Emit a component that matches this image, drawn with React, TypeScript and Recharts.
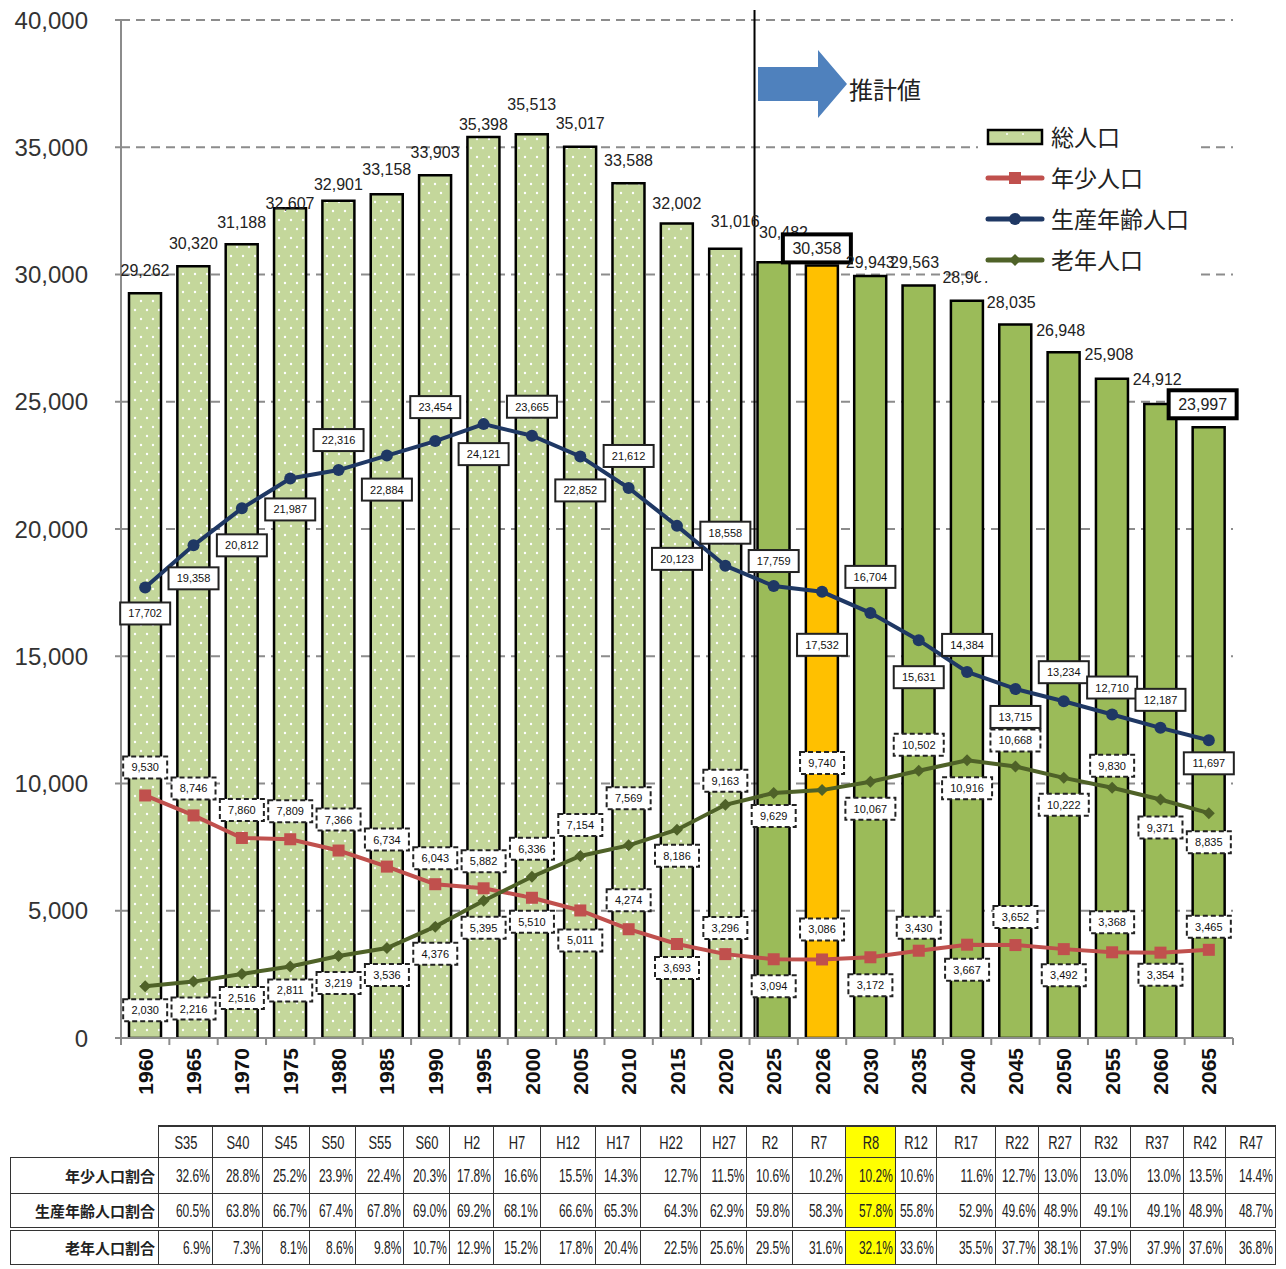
import React from "react";
import {
  Bar,
  CartesianGrid,
  Cell,
  ComposedChart,
  LabelList,
  Line,
  ReferenceLine,
  XAxis,
  YAxis,
} from "recharts";

// 年次（グラフ横軸）
const years = [
  "1960", "1965", "1970", "1975", "1980", "1985", "1990", "1995", "2000", "2005", "2010", "2015",
  "2020", "2025", "2026", "2030", "2035", "2040", "2045", "2050", "2055", "2060", "2065",
];
const totalPop = [
  29262, 30320, 31188, 32607, 32901, 33158, 33903, 35398, 35513, 35017, 33588, 32002,
  31016, 30482, 30358, 29943, 29563, 28967, 28035, 26948, 25908, 24912, 23997,
];
const youngPop = [
  9530, 8746, 7860, 7809, 7366, 6734, 6043, 5882, 5510, 5011, 4274, 3693,
  3296, 3094, 3086, 3172, 3430, 3667, 3652, 3492, 3368, 3354, 3465,
];
const workingPop = [
  17702, 19358, 20812, 21987, 22316, 22884, 23454, 24121, 23665, 22852, 21612, 20123,
  18558, 17759, 17532, 16704, 15631, 14384, 13715, 13234, 12710, 12187, 11697,
];
const elderlyPop = [
  2030, 2216, 2516, 2811, 3219, 3536, 4376, 5395, 6336, 7154, 7569, 8186,
  9163, 9629, 9740, 10067, 10502, 10916, 10668, 10222, 9830, 9371, 8835,
];
const yTicks = [0, 5000, 10000, 15000, 20000, 25000, 30000, 35000, 40000];
const lastActualYear = "2020";
const currentYear = "2026";
const boxedYears = ["2026", "2065"];

// 表（和暦）
const eraLabels = [
  "S35", "S40", "S45", "S50", "S55", "S60", "H2", "H7", "H12", "H17", "H22", "H27",
  "R2", "R7", "R8", "R12", "R17", "R22", "R27", "R32", "R37", "R42", "R47",
];
const youngShare = [
  32.6, 28.8, 25.2, 23.9, 22.4, 20.3, 17.8, 16.6, 15.5, 14.3, 12.7, 11.5,
  10.6, 10.2, 10.2, 10.6, 11.6, 12.7, 13.0, 13.0, 13.0, 13.5, 14.4,
];
const workingShare = [
  60.5, 63.8, 66.7, 67.4, 67.8, 69.0, 69.2, 68.1, 66.6, 65.3, 64.3, 62.9,
  59.8, 58.3, 57.8, 55.8, 52.9, 49.6, 48.9, 49.1, 49.1, 48.9, 48.7,
];
const elderlyShare = [
  6.9, 7.3, 8.1, 8.6, 9.8, 10.7, 12.9, 15.2, 17.8, 20.4, 22.5, 25.6,
  29.5, 31.6, 32.1, 33.6, 35.5, 37.7, 38.1, 37.9, 37.9, 37.6, 36.8,
];
const highlightEra = "R8";

// label placement (px, relative to point / bar top)
const totalLabelDy = [-23, -23, -22, -5, -16, -25, -23, -13, -30, -23, -23, -20, -27, -30, -17, -13, -23, -23, -22, -22, -24, -24, -23];
const totalLabelDx = [0, 0, 0, 0, 0, 0, 0, 0, 0, 0, 0, 0, 10, 10, -5, 0, -4, 0, -4, -3, -3, -3, -6];
const youngLabelDy = [-28, -27, -28, -28, -31, -27, -26, -27, 24, 30, -29, 24, -26, 27, -30, 28, -23, 25, -28, 26, -30, 22, -23];
const workingLabelDy = [26, 33, 37, 31, -30, 34, -34, 30, -29, 34, -32, 33, -33, -25, 53, -36, 37, -27, 28, -29, -27, -28, 23];
const elderlyLabelDy = [24, 27, 24, 24, 27, 27, 27, 27, -28, -31, -47, 26, -24, 23, -27, 27, -26, 28, -26, 27, -22, 28, 29];

const data = years.map((year, i) => ({
  year,
  total: totalPop[i],
  young: youngPop[i],
  working: workingPop[i],
  elderly: elderlyPop[i],
}));

const CHART_W = 1286;
const CHART_H = 1110;
const PLOT_LEFT = 121;
const PLOT_RIGHT = 1233;
const STEP = (PLOT_RIGHT - PLOT_LEFT) / years.length;

const RED = "#c0504d";
const NAVY = "#1f3864";
const OLIVE = "#4f6228";
const LIGHT_GREEN = "#c4d79b";
const GREEN = "#9bbb59";
const ORANGE = "#ffc000";
const GRID = "#8c8c8c";
const latin = "'Liberation Sans', Arial, sans-serif";
const cjk = "'Noto Sans CJK JP', 'Noto Sans', sans-serif";

const fmt = (v: number) => v.toLocaleString("en-US");

function barFill(year: string) {
  if (year === currentYear) return ORANGE;
  if (Number(year) <= Number(lastActualYear)) return "url(#dots)";
  return GREEN;
}

function TotalLabel(props: any) {
  const vb = props.viewBox ?? props;
  const i = props.index;
  const cx = vb.x + vb.width / 2 + totalLabelDx[i];
  const cy = vb.y + totalLabelDy[i];
  const boxed = boxedYears.includes(years[i]);
  return (
    <g>
      {boxed && (
        <rect x={cx - 34} y={cy - 14} width={68} height={28} fill="#fff" stroke="#000" strokeWidth={4} />
      )}
      <text
        x={cx}
        y={cy}
        textAnchor="middle"
        dominantBaseline="central"
        fontSize={16}
        fontFamily={latin}
        fill="#222"
      >
        {fmt(props.value)}
      </text>
    </g>
  );
}

function makeBoxLabel(offsets: number[], dashed: boolean) {
  return function BoxLabel(props: any) {
    const vb = props.viewBox ?? props;
    const i = props.index;
    const cx = vb.x + (vb.width || 0) / 2;
    const cy = vb.y + offsets[i];
    const text = fmt(props.value);
    const w = text.length > 5 ? 50 : 44;
    return (
      <g>
        <rect
          x={cx - w / 2}
          y={cy - 11}
          width={w}
          height={22}
          fill="#fff"
          stroke="#222"
          strokeWidth={2}
          strokeDasharray={dashed ? "5 3" : undefined}
        />
        <text
          x={cx}
          y={cy}
          textAnchor="middle"
          dominantBaseline="central"
          fontSize={11}
          fontFamily={latin}
          fill="#111"
        >
          {text}
        </text>
      </g>
    );
  };
}

const SquareDot = (p: any) => (
  <rect key={`sq-${p.index}`} x={p.cx - 6} y={p.cy - 6} width={12} height={12} fill={RED} />
);
const DiamondDot = (p: any) => (
  <polygon
    key={`dm-${p.index}`}
    points={`${p.cx},${p.cy - 6} ${p.cx + 6},${p.cy} ${p.cx},${p.cy + 6} ${p.cx - 6},${p.cy}`}
    fill={OLIVE}
  />
);

function YearTick(props: any) {
  const { x, y, payload, index } = props;
  const ty = y + 10;
  return (
    <g>
      <line x1={x - STEP / 2} x2={x - STEP / 2} y1={y} y2={y + 7} stroke={GRID} strokeWidth={2} />
      {index === years.length - 1 && (
        <line x1={x + STEP / 2} x2={x + STEP / 2} y1={y} y2={y + 7} stroke={GRID} strokeWidth={2} />
      )}
      <text
        x={x}
        y={ty}
        transform={`rotate(-90, ${x}, ${ty})`}
        textAnchor="end"
        dy="0.36em"
        fontSize={21}
        fontWeight="bold"
        fontFamily={latin}
        fill="#111"
      >
        {payload.value}
      </text>
    </g>
  );
}

const EmptyTick = () => <g />;

function LegendIcon({ kind }: { kind: string }) {
  if (kind === "bar") {
    return (
      <svg width={60} height={22}>
        <rect x={3} y={4} width={54} height={14} fill={LIGHT_GREEN} stroke="#000" strokeWidth={2.5} />
        <circle cx={22} cy={8} r={1} fill="#fff" />
        <circle cx={38} cy={8} r={1} fill="#fff" />
      </svg>
    );
  }
  const color = kind === "square" ? RED : kind === "circle" ? NAVY : OLIVE;
  return (
    <svg width={60} height={22}>
      <line x1={3} x2={57} y1={11} y2={11} stroke={color} strokeWidth={5} strokeLinecap="round" />
      {kind === "square" && <rect x={24} y={5} width={12} height={12} fill={color} />}
      {kind === "circle" && <circle cx={30} cy={11} r={6} fill={color} />}
      {kind === "diamond" && <polygon points="30,5 36,11 30,17 24,11" fill={color} />}
    </svg>
  );
}

const legendItems = [
  { label: "総人口", kind: "bar" },
  { label: "年少人口", kind: "square" },
  { label: "生産年齢人口", kind: "circle" },
  { label: "老年人口", kind: "diamond" },
];

const colWidths = [54, 50, 47, 46, 48, 46, 44, 47, 55, 45, 60, 46, 46, 53, 50, 41, 59, 43, 42, 50, 53, 42, 50];

function Narrow({ children, align }: { children: React.ReactNode; align: "center" | "right" }) {
  const base: React.CSSProperties = {
    position: "absolute",
    top: "50%",
    whiteSpace: "nowrap",
    lineHeight: 1,
  };
  const style: React.CSSProperties =
    align === "center"
      ? { ...base, left: "50%", transform: "translate(-50%, -50%) scaleX(0.68)", transformOrigin: "center" }
      : { ...base, right: 2, transform: "translateY(-50%) scaleX(0.63)", transformOrigin: "right center" };
  return <span style={style}>{children}</span>;
}

function ShareTable() {
  const rows = [
    { label: "年少人口割合", values: youngShare },
    { label: "生産年齢人口割合", values: workingShare },
    { label: "老年人口割合", values: elderlyShare },
  ];
  const border = "1px solid #333";
  return (
    <table
      style={{
        position: "absolute",
        left: 10,
        top: 1125,
        width: 1265,
        borderCollapse: "collapse",
        tableLayout: "fixed",
        fontFamily: latin,
        color: "#222",
      }}
    >
      <colgroup>
        <col style={{ width: 148 }} />
        {colWidths.map((w, i) => (
          <col key={i} style={{ width: w }} />
        ))}
      </colgroup>
      <tbody>
        <tr style={{ height: 31 }}>
          <td style={{ border: "none" }} />
          {eraLabels.map((e) => (
            <td
              key={e}
              style={{
                position: "relative",
                border,
                borderTop: "2px solid #333",
                fontSize: 19,
                padding: 0,
                background: e === highlightEra ? "#ffff00" : "#fff",
              }}
            >
              <Narrow align="center">{e}</Narrow>
            </td>
          ))}
        </tr>
        {rows.map((r, ri) => (
          <tr key={r.label} style={{ height: ri === 2 ? 35 : 36 }}>
            <td
              style={{
                border,
                borderBottom: ri === 1 ? "4px double #333" : border,
                textAlign: "right",
                fontFamily: cjk,
                fontWeight: 700,
                fontSize: 15,
                padding: "0 3px 0 0",
                whiteSpace: "nowrap",
              }}
            >
              {r.label}
            </td>
            {r.values.map((v, i) => (
              <td
                key={i}
                style={{
                  position: "relative",
                  border,
                  borderBottom: ri === 1 ? "4px double #333" : border,
                  fontSize: 19,
                  padding: 0,
                  background: eraLabels[i] === highlightEra ? "#ffff00" : "#fff",
                }}
              >
                <Narrow align="right">{v.toFixed(1)}%</Narrow>
              </td>
            ))}
          </tr>
        ))}
      </tbody>
    </table>
  );
}

export default function App() {
  return (
    <div style={{ position: "absolute", left: 0, top: 0, width: 1286, height: 1269, background: "#fff" }}>
      <ComposedChart
        width={CHART_W}
        height={CHART_H}
        data={data}
        margin={{ top: 20, right: CHART_W - PLOT_RIGHT, bottom: 0, left: 0 }}
        barCategoryGap={0}
      >
        <defs>
          <pattern id="dots" width={12} height={18} patternUnits="userSpaceOnUse">
            <rect width={12} height={18} fill={LIGHT_GREEN} />
            <circle cx={3} cy={4} r={1.2} fill="#fff" />
            <circle cx={9} cy={13} r={1.2} fill="#fff" />
          </pattern>
        </defs>
        <CartesianGrid
          yAxisId="l"
          vertical={false}
          stroke={GRID}
          strokeWidth={2}
          strokeDasharray="9 6"
        />
        <XAxis
          dataKey="year"
          interval={0}
          height={CHART_H - 1038}
          tickLine={false}
          tickSize={0}
          tickMargin={0}
          axisLine={{ stroke: GRID, strokeWidth: 2 }}
          tick={<YearTick />}
        />
        <YAxis
          yAxisId="l"
          width={PLOT_LEFT}
          domain={[0, 40000]}
          ticks={yTicks}
          allowDataOverflow
          tickFormatter={fmt}
          tickSize={6}
          tickMargin={27}
          axisLine={{ stroke: GRID, strokeWidth: 2 }}
          tickLine={{ stroke: GRID, strokeWidth: 2 }}
          tick={{ fontSize: 24, fill: "#333", fontFamily: latin }}
        />
        <YAxis
          yAxisId="r"
          orientation="right"
          width={0}
          domain={[0, 40000]}
          ticks={yTicks}
          allowDataOverflow
          tickSize={5}
          axisLine={{ stroke: GRID, strokeWidth: 2 }}
          tickLine={{ stroke: GRID, strokeWidth: 2 }}
          tick={<EmptyTick />}
        />
        <Bar
          dataKey="total"
          yAxisId="l"
          barSize={32}
          stroke="#000"
          strokeWidth={2.5}
          isAnimationActive={false}
        >
          {data.map((d) => (
            <Cell key={d.year} fill={barFill(d.year)} />
          ))}
          <LabelList dataKey="total" content={TotalLabel} />
        </Bar>
        <ReferenceLine
          yAxisId="l"
          x="2025"
          position="start"
          stroke="#000"
          strokeWidth={2}
          ifOverflow="visible"
          shape={(p: any) => (
            <line
              x1={p.x1 + 5}
              x2={p.x2 + 5}
              y1={Math.min(p.y1, p.y2) - 10}
              y2={Math.max(p.y1, p.y2)}
              stroke="#000"
              strokeWidth={2}
            />
          )}
        />
        <Line
          dataKey="young"
          yAxisId="l"
          stroke={RED}
          strokeWidth={4}
          dot={SquareDot}
          activeDot={false}
          isAnimationActive={false}
        >
          <LabelList dataKey="young" content={makeBoxLabel(youngLabelDy, true)} />
        </Line>
        <Line
          dataKey="elderly"
          yAxisId="l"
          stroke={OLIVE}
          strokeWidth={4}
          dot={DiamondDot}
          activeDot={false}
          isAnimationActive={false}
        >
          <LabelList dataKey="elderly" content={makeBoxLabel(elderlyLabelDy, true)} />
        </Line>
        <Line
          dataKey="working"
          yAxisId="l"
          stroke={NAVY}
          strokeWidth={4}
          dot={{ r: 6, fill: NAVY, stroke: NAVY, strokeWidth: 0 }}
          activeDot={false}
          isAnimationActive={false}
        >
          <LabelList dataKey="working" content={makeBoxLabel(workingLabelDy, false)} />
        </Line>
      </ComposedChart>

      <svg
        width={CHART_W}
        height={140}
        style={{ position: "absolute", left: 0, top: 0, pointerEvents: "none" }}
      >
        <polygon points="758,67 818,67 818,50 847,84 818,118 818,101 758,101" fill="#4f81bd" />
        <text x={849} y={88} dominantBaseline="central" fontSize={24} fontFamily={cjk} fill="#222">
          推計値
        </text>
      </svg>

      <div
        style={{
          position: "absolute",
          left: 978,
          top: 112,
          width: 218,
          height: 169,
          background: "#fff",
          fontFamily: cjk,
          fontSize: 23,
          color: "#222",
          paddingTop: 4,
          boxSizing: "border-box",
          whiteSpace: "nowrap",
        }}
      >
        {legendItems.map((it) => (
          <div key={it.label} style={{ display: "flex", alignItems: "center", height: 41, marginLeft: 7 }}>
            <LegendIcon kind={it.kind} />
            <span style={{ marginLeft: 6, lineHeight: 1 }}>{it.label}</span>
          </div>
        ))}
      </div>

      <ShareTable />
    </div>
  );
}
